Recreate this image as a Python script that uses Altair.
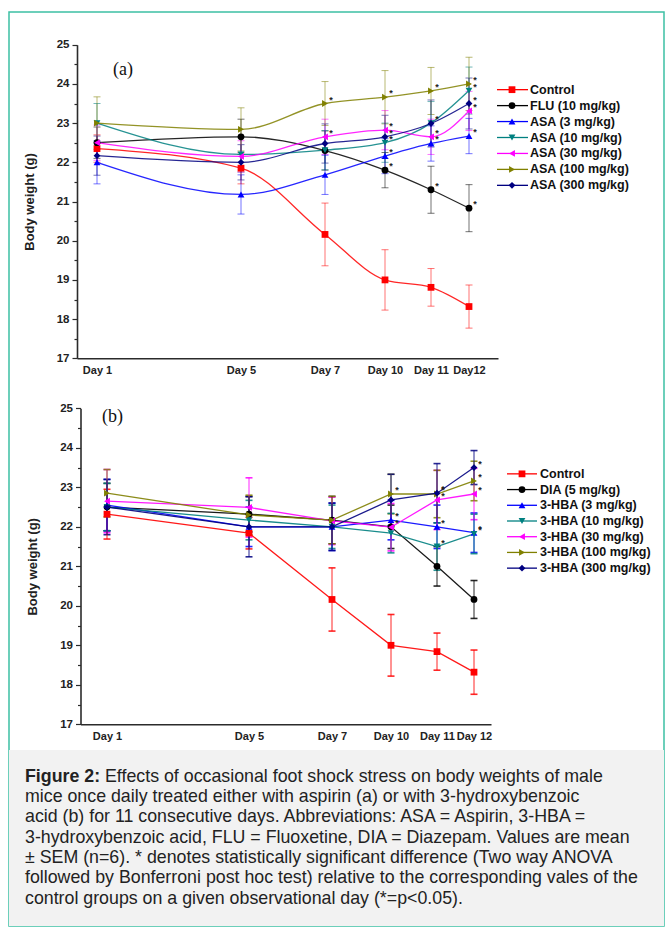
import json
import pandas as pd
import altair as alt

# ---------------- data ----------------
days = [1, 5, 7, 10, 11, 12]
day_labels_a = ["Day 1", "Day 5", "Day 7", "Day 10", "Day 11", "Day12"]
day_labels_b = ["Day 1", "Day 5", "Day 7", "Day 10", "Day 11", "Day 12"]

series_a = ["Control", "FLU (10 mg/kg)", "ASA (3 mg/kg)", "ASA (10 mg/kg)",
            "ASA (30 mg/kg)", "ASA  (100 mg/kg)", "ASA (300 mg/kg)"]
control_a = [22.35, 21.85, 20.16, 19.00, 18.81, 18.32]
flu_a = [22.50, 22.65, 22.30, 21.80, 21.30, 20.83]
asa3_a = [22.00, 21.18, 21.68, 22.16, 22.48, 22.67]
asa10_a = [23.00, 22.20, 22.31, 22.50, 23.00, 23.83]
asa30_a = [22.50, 22.15, 22.65, 22.82, 22.65, 23.31]
asa100_a = [23.00, 22.84, 23.50, 23.66, 23.82, 24.00]
asa300_a = [22.17, 22.00, 22.48, 22.65, 22.99, 23.50]

control_a_sem = [0.35, 0.40, 0.80, 0.77, 0.48, 0.55]
flu_a_sem = [0.40, 0.45, 0.50, 0.45, 0.60, 0.60]
asa3_a_sem = [0.55, 0.50, 0.50, 0.45, 0.45, 0.45]
asa10_a_sem = [0.50, 0.45, 0.50, 0.50, 0.55, 0.60]
asa30_a_sem = [0.45, 0.40, 0.45, 0.50, 0.45, 0.50]
asa100_a_sem = [0.67, 0.55, 0.56, 0.68, 0.60, 0.68]
asa300_a_sem = [0.50, 0.45, 0.50, 0.55, 0.60, 0.65]

control_a_sig = [0, 0, 0, 0, 0, 0]
flu_a_sig = [0, 0, 0, 1, 1, 1]
asa3_a_sig = [0, 0, 0, 1, 1, 1]
asa10_a_sig = [0, 0, 0, 1, 0, 1]
asa30_a_sig = [0, 0, 1, 1, 1, 1]
asa100_a_sig = [0, 0, 1, 1, 1, 1]
asa300_a_sig = [0, 0, 0, 1, 1, 1]

series_b = ["Control", "DIA (5 mg/kg)", "3-HBA (3 mg/kg)", "3-HBA (10 mg/kg)",
            "3-HBA (30 mg/kg)", "3-HBA (100 mg/kg)", "3-HBA (300 mg/kg)"]
control_b = [22.32, 21.84, 20.16, 19.00, 18.84, 18.32]
dia_b = [22.50, 22.32, 22.17, 22.00, 21.00, 20.16]
hba3_b = [22.55, 22.00, 22.00, 22.17, 22.00, 21.85]
hba10_b = [22.50, 22.17, 22.00, 21.84, 21.50, 21.82]
hba30_b = [22.65, 22.49, 22.15, 21.99, 22.68, 22.83]
hba100_b = [22.85, 22.30, 22.17, 22.83, 22.83, 23.16]
hba300_b = [22.50, 22.00, 22.00, 22.68, 22.85, 23.50]

control_b_sem = [0.63, 0.40, 0.80, 0.78, 0.47, 0.56]
dia_b_sem = [0.60, 0.45, 0.60, 0.55, 0.50, 0.48]
hba3_b_sem = [0.65, 0.50, 0.60, 0.50, 0.55, 0.50]
hba10_b_sem = [0.60, 0.50, 0.55, 0.50, 0.60, 0.50]
hba30_b_sem = [0.80, 0.75, 0.60, 0.60, 0.75, 0.65]
hba100_b_sem = [0.60, 0.50, 0.60, 0.50, 0.60, 0.50]
hba300_b_sem = [0.70, 0.76, 0.60, 0.65, 0.75, 0.43]

control_b_sig = [0, 0, 0, 0, 0, 0]
dia_b_sig = [0, 0, 0, 0, 0, 0]
hba3_b_sig = [0, 0, 0, 1, 1, 1]
hba10_b_sig = [0, 0, 0, 0, 1, 1]
hba30_b_sig = [0, 0, 0, 1, 1, 1]
hba100_b_sig = [0, 0, 0, 1, 1, 1]
hba300_b_sig = [0, 0, 0, 0, 1, 1]

caption_lines = [
    "mice once daily treated either with aspirin (a) or with 3-hydroxybenzoic",
    "acid (b) for 11 consecutive days. Abbreviations: ASA = Aspirin, 3-HBA =",
    "3-hydroxybenzoic acid, FLU = Fluoxetine, DIA = Diazepam. Values are mean",
    "\u00b1 SEM (n=6). * denotes statistically significant difference (Two way ANOVA",
    "followed by Bonferroni post hoc test) relative to the corresponding vales of the",
    "control groups on a given observational day (*=p<0.05).",
]
caption_bold = "Figure 2:"
caption_first = "Effects of occasional foot shock stress on body weights of male"

colors = ["#ff0000", "#000000", "#0000ff", "#008080", "#ff00ff", "#808000", "#000080"]
shapes = ["square", "circle", "triangle-up", "triangle-down", "triangle-left",
          "triangle-right", "diamond"]

FONT = "Liberation Sans, Arial, sans-serif"
AXC = "#2b2b2b"


def make_df(names, means, sems, sigs):
    rows = []
    for n, m, s, g in zip(names, means, sems, sigs):
        for d, v, e, f in zip(days, m, s, g):
            rows.append(dict(series=n, day=d, value=v, lo=v - e, hi=v + e, star=f))
    return pd.DataFrame(rows)


df_a = make_df(series_a,
               [control_a, flu_a, asa3_a, asa10_a, asa30_a, asa100_a, asa300_a],
               [control_a_sem, flu_a_sem, asa3_a_sem, asa10_a_sem, asa30_a_sem,
                asa100_a_sem, asa300_a_sem],
               [control_a_sig, flu_a_sig, asa3_a_sig, asa10_a_sig, asa30_a_sig,
                asa100_a_sig, asa300_a_sig])
df_b = make_df(series_b,
               [control_b, dia_b, hba3_b, hba10_b, hba30_b, hba100_b, hba300_b],
               [control_b_sem, dia_b_sem, hba3_b_sem, hba10_b_sem, hba30_b_sem,
                hba100_b_sem, hba300_b_sem],
               [control_b_sig, dia_b_sig, hba3_b_sig, hba10_b_sig, hba30_b_sig,
                hba100_b_sig, hba300_b_sig])

W, H = 655, 914


def panel(df, names, labels, xrange, yrange, interp, err_op, cap_w, line_op):
    xdom = [0] + days + [13]
    xs = alt.Scale(domain=xdom, range=xrange, zero=False, nice=False)
    ys = alt.Scale(domain=[17, 25], range=yrange, zero=False, nice=False)
    expr = f"{json.dumps(labels)}[indexof({json.dumps(days)}, datum.value)]"
    xax = alt.Axis(values=days, labelExpr=expr, orient="bottom",
                   offset=yrange[0] - H, ticks=False, grid=False,
                   domainColor=AXC, domainWidth=1.6, labelFont=FONT,
                   labelFontWeight="bold", labelFontSize=11, labelColor="#222",
                   labelPadding=6, title=None, labelOverlap=False, labelFlush=False)
    yax = alt.Axis(values=[17 + 0.5 * i for i in range(17)],
                   labelExpr="datum.value % 1 === 0 ? '' + datum.value : ''",
                   orient="left", offset=-xrange[0], grid=False,
                   domainColor=AXC, domainWidth=1.6, tickColor=AXC, tickWidth=1.2,
                   tickSize={"condition": {"test": "datum.value % 1 === 0", "value": 5},
                             "value": 3},
                   labelFont=FONT, labelFontWeight="bold", labelFontSize=11.5,
                   labelColor="#222", labelPadding=3, labelOverlap=False,
                   title="Body weight (g)", titleFont=FONT, titleFontWeight="bold",
                   titleFontSize=13, titleColor="#222", titlePadding=20)
    x = alt.X("day:Q", scale=xs, axis=xax)
    color = alt.Color("series:N", scale=alt.Scale(domain=names, range=colors), legend=None)
    shape = alt.Shape("series:N", scale=alt.Scale(domain=names, range=shapes), legend=None)
    base = alt.Chart(df)
    err = base.mark_errorbar(ticks={"size": 7, "thickness": cap_w}, thickness=1,
                             opacity=err_op).encode(
        x=x, y=alt.Y("lo:Q", scale=ys, axis=yax), y2="hi:Q", color=color)
    line = base.mark_line(interpolate=interp, strokeWidth=1.3, opacity=line_op).encode(
        x=x, y=alt.Y("value:Q", scale=ys, axis=yax), color=color, detail="series:N")
    pts = base.mark_point(filled=True, size=46, opacity=1).encode(
        x=x, y=alt.Y("value:Q", scale=ys, axis=yax), color=color, shape=shape)
    stars = base.transform_filter("datum.star == 1").mark_text(
        text="*", dx=6, dy=-4, fontSize=9, fontWeight="bold", color="#222",
        font=FONT).encode(x=x, y=alt.Y("value:Q", scale=ys, axis=yax))
    return alt.layer(err, line, pts, stars)


def legend(names, yr, x_line0, x_line1, x_sym, x_text):
    ldf = pd.DataFrame({"series": names})
    y = alt.Y("series:N", sort=names,
              scale=alt.Scale(domain=names, range=yr, padding=0), axis=None)
    color = alt.Color("series:N", scale=alt.Scale(domain=names, range=colors), legend=None)
    shape = alt.Shape("series:N", scale=alt.Scale(domain=names, range=shapes), legend=None)
    b = alt.Chart(ldf)
    r = b.mark_rule(strokeWidth=1.3).encode(x=alt.value(x_line0), x2=alt.value(x_line1),
                                            y=y, color=color)
    p = b.mark_point(filled=True, size=46, opacity=1).encode(x=alt.value(x_sym), y=y,
                                                           color=color, shape=shape)
    t = b.mark_text(align="left", baseline="middle", font=FONT, fontWeight="bold",
                    fontSize=12.5, color="#111").encode(x=alt.value(x_text), y=y,
                                                        text="series:N")
    return alt.layer(r, p, t)


panel_a = panel(df_a, series_a, day_labels_a,
                [68, 88, 232, 316, 376, 422, 460, 489], [346.3, 32.7],
                "monotone", 0.55, 1, 0.85)
panel_b = panel(df_b, series_b, day_labels_b,
                [71.5, 98, 240, 323, 382, 428, 465, 482], [712.3, 396.3],
                "linear", 0.85, 1.6, 0.9)
legend_a = legend(series_a, [69.7, 181.3], 488, 519, 503, 521)
legend_b = legend(series_b, [454, 564], 498, 528, 513, 531)

one = pd.DataFrame({"k": [0]})
cap_bg = alt.Chart(one).mark_rect(color="#f2f2f2").encode(
    x=alt.value(0), x2=alt.value(W), y=alt.value(738), y2=alt.value(H))
lab_a = alt.Chart(one).mark_text(text="(a)", font="Liberation Serif, Times New Roman, serif",
                                 fontSize=18, align="left", baseline="middle",
                                 color="#111").encode(x=alt.value(104), y=alt.value(58))
lab_b = alt.Chart(one).mark_text(text="(b)", font="Liberation Serif, Times New Roman, serif",
                                 fontSize=18, align="left", baseline="middle",
                                 color="#111").encode(x=alt.value(93), y=alt.value(405))
cap_b = alt.Chart(one).mark_text(text=caption_bold, font=FONT, fontWeight="bold",
                                 fontSize=17.8, align="left", baseline="alphabetic",
                                 color="#222").encode(x=alt.value(16), y=alt.value(769.5))
cap_1 = alt.Chart(one).mark_text(text=caption_first, font=FONT, fontSize=17.8,
                                 align="left", baseline="alphabetic",
                                 color="#222").encode(x=alt.value(96), y=alt.value(769.5))
cap_r = alt.Chart(one).mark_text(text=caption_lines, font=FONT, fontSize=17.8,
                                 lineHeight=20.4, align="left", baseline="alphabetic",
                                 color="#222").encode(x=alt.value(16), y=alt.value(789.9))

chart = alt.layer(
    cap_bg, panel_a, legend_a, panel_b, legend_b, lab_a, lab_b, cap_b, cap_1, cap_r
).resolve_scale(
    x="independent", y="independent", color="independent", shape="independent"
).properties(
    width=W, height=H, autosize=alt.AutoSizeParams(type="none"),
    padding={"left": 9, "top": 12, "right": 1, "bottom": 8},
    background="white",
).configure_view(stroke="#3cc0a4", strokeWidth=1.5)

chart.save("out.html", embed_options={"renderer": "svg", "actions": False})
